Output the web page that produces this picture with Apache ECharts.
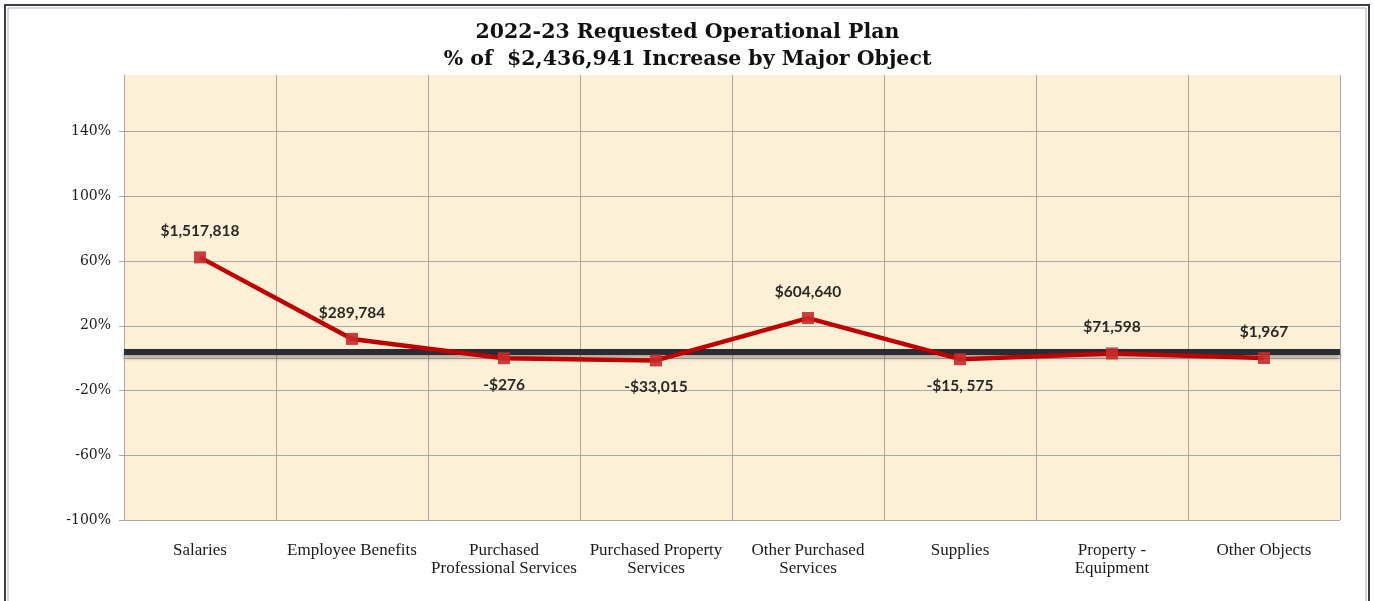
<!DOCTYPE html>
<html>
<head>
<meta charset="utf-8">
<script src="https://cdn.jsdelivr.net/npm/echarts@6/dist/echarts.min.js"></script>
<style>
html, body { margin: 0; padding: 0; background: #fff; }
#main { width: 1375px; height: 601px; }
</style>
</head>
<body>
<div id="main"></div>
<script>
var categories = ['Salaries', 'Employee Benefits', 'Purchased\nProfessional Services', 'Purchased Property\nServices',
    'Other Purchased\nServices', 'Supplies', 'Property -\nEquipment', 'Other Objects'];
// share of the total increase, in %
var percents = [62.3, 11.9, -0.01, -1.4, 24.8, -0.6, 2.9, 0.1];
var amountLabels = ['$1,517,818', '$289,784', '-$276', '-$33,015', '$604,640', '-$15, 575', '$71,598', '$1,967'];
var baseLine = 4;

var points = percents.map(function (v, i) {
    return {
        value: v,
        label: {
            position: v < 0 ? 'bottom' : 'top',
            distance: v < 0 ? 13 : 12,
            formatter: amountLabels[i]
        }
    };
});

var option = {
    backgroundColor: '#ffffff',
    animation: false,
    title: {
        text: '2022-23 Requested Operational Plan\n% of  $2,436,941 Increase by Major Object',
        left: 'center',
        top: 14,
        textStyle: {
            fontFamily: 'DejaVu Serif',
            fontWeight: 'bold',
            fontSize: 20.5,
            lineHeight: 27,
            color: '#111'
        }
    },
    graphic: [
        { type: 'rect', shape: { x: 5, y: 5, width: 1364, height: 640 }, style: { fill: 'none', stroke: '#3c3c46', lineWidth: 2 } },
        { type: 'rect', shape: { x: 8, y: 8, width: 1358, height: 640 }, style: { fill: 'none', stroke: '#b0b0b0', lineWidth: 1 } }
    ],
    grid: {
        left: 124,
        right: 35,
        top: 75,
        bottom: 81,
        show: true,
        backgroundColor: '#fcf0d7',
        borderWidth: 0
    },
    xAxis: {
        type: 'category',
        data: categories,
        axisLine: { show: true, onZero: true, lineStyle: { color: '#a8a8a8', width: 1 } },
        axisTick: { show: false },
        splitLine: { show: true, interval: 0, lineStyle: { color: '#a8a8a8', width: 1 } },
        axisLabel: {
            interval: 0,
            margin: 22,
            fontFamily: 'Liberation Serif',
            fontSize: 17,
            lineHeight: 18,
            color: '#1a1a1a'
        }
    },
    yAxis: {
        type: 'value',
        min: -100,
        max: 175,
        interval: 40,
        axisLine: { show: true, lineStyle: { color: '#a8a8a8' } },
        axisTick: { show: true, length: 5, lineStyle: { color: '#a8a8a8' } },
        splitLine: { show: true, showMaxLine: false, lineStyle: { color: '#a8a8a8', width: 1 } },
        axisLabel: {
            showMaxLabel: false,
            margin: 13,
            formatter: '{value}%',
            fontFamily: 'DejaVu Serif',
            fontSize: 14,
            color: '#1a1a1a'
        }
    },
    series: [{
        type: 'line',
        data: points,
        symbol: 'rect',
        symbolSize: 12,
        z: 5,
        lineStyle: { color: '#c00000', width: 4.5 },
        itemStyle: { color: '#c62a2a', opacity: 0.9 },
        label: {
            show: true,
            fontFamily: 'Lato',
            fontWeight: 'bold',
            fontSize: 15.5,
            color: '#111'
        },
        markLine: {
            silent: true,
            symbol: 'none',
            label: { show: false },
            z: 3,
            lineStyle: {
                type: 'solid',
                color: '#2b2b35',
                width: 6,
                shadowColor: 'rgba(0,0,0,0.35)',
                shadowBlur: 4,
                shadowOffsetY: 3
            },
            data: [{ yAxis: baseLine }]
        }
    }]
};

var chart = echarts.init(document.getElementById('main'));
chart.setOption(option);
</script>
</body>
</html>
